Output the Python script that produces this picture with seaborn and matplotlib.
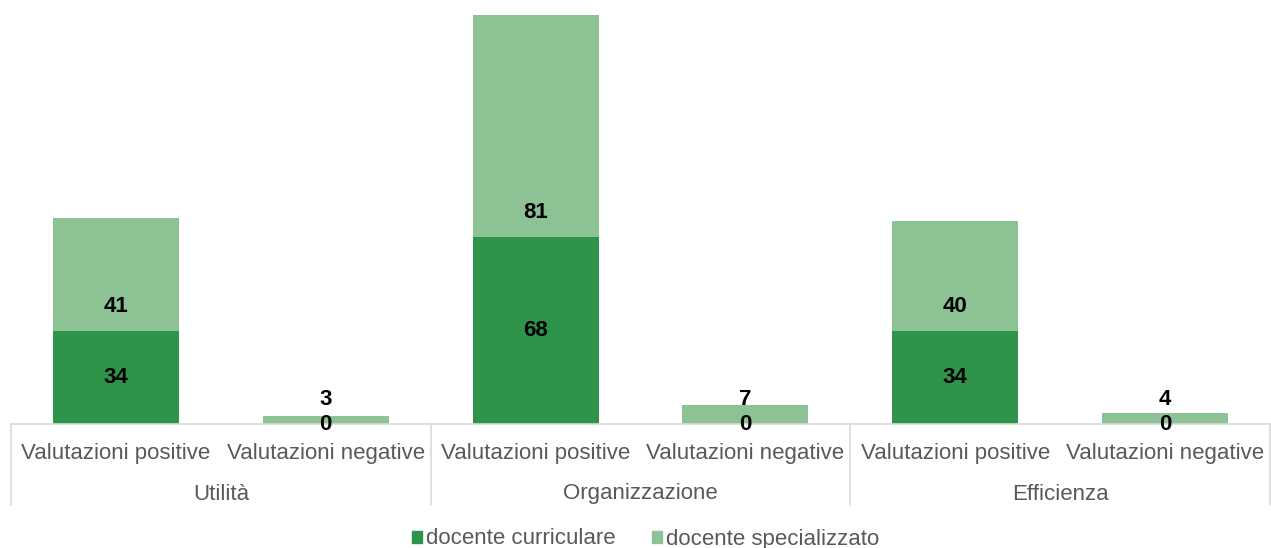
import numpy as np
import pandas as pd
import seaborn as sns
import matplotlib.pyplot as plt
import matplotlib.transforms as mtransforms
from matplotlib.patches import Patch

gruppi = ["Utilità", "Organizzazione", "Efficienza"]
valutazioni = ["Valutazioni positive", "Valutazioni negative"]
curricolare = [34, 0, 68, 0, 34, 0]
specializzato = [41, 3, 81, 7, 40, 4]

dark = "#2E944A"
light = "#8DC394"
grey = "#595959"
line_col = "#D9D9D9"
fs = 16

slots = [f"{g}|{v}" for g in gruppi for v in valutazioni]
df = pd.DataFrame({"slot": slots,
                   "curricolare": curricolare,
                   "specializzato": specializzato})
df["totale"] = df["curricolare"] + df["specializzato"]

sns.set_theme(style="white")
plt.rcParams['font.family'] = ['Liberation Sans', 'DejaVu Sans']

fig = plt.figure(figsize=(12.71, 5.48), dpi=100)
ax = fig.add_axes([11 / 1271, 124 / 548, 1259 / 1271, 424 / 548])

sns.barplot(data=df, x="slot", y="totale", color=light, width=0.6,
            saturation=1, linewidth=0, ax=ax)
sns.barplot(data=df, x="slot", y="curricolare", color=dark, width=0.6,
            saturation=1, linewidth=0, ax=ax)

ax.set_xlim(-0.5, len(slots) - 0.5)
ax.set_ylim(0, 424 / 2.746)
ax.set_xlabel("")
ax.set_ylabel("")
ax.set_yticks([])
for s in ax.spines.values():
    s.set_visible(False)

# data labels
for i, row in df.iterrows():
    c = row["curricolare"]
    ax.text(i, c / 2, str(c), ha="center", va="center",
            fontsize=fs, fontweight="bold", color="black")
    ax.annotate(str(row["specializzato"]), (i, c), xytext=(0, 17.5),
                textcoords="offset points", ha="center", va="center",
                fontsize=fs, fontweight="bold", color="black")

# two level category axis
ax.set_xticks(range(len(slots)))
ax.set_xticklabels(valutazioni * len(gruppi), fontsize=fs, color=grey)
ax.tick_params(axis="x", length=0, pad=14)

trans = mtransforms.blended_transform_factory(ax.transData, ax.transAxes)
px = 1 / 424
ax.plot([-0.5, len(slots) - 0.5], [0, 0], color=line_col, lw=1.2,
        transform=trans, clip_on=False)
for b in range(len(gruppi) + 1):
    xb = -0.5 + 2 * b
    ax.plot([xb, xb], [0, -81 * px], color=line_col, lw=1.2,
            transform=trans, clip_on=False)
for k, g in enumerate(gruppi):
    ax.text(2 * k + 0.5, -70 * px, g, ha="center", va="center",
            fontsize=fs, color=grey, transform=trans)

handles = [Patch(color=dark, label="docente curriculare"),
           Patch(color=light, label="docente specializzato")]
leg = fig.legend(handles=handles, loc="center", ncol=2,
                 bbox_to_anchor=(0.508, 1 - 539 / 548), frameon=False,
                 fontsize=fs, handlelength=0.45, handleheight=0.45,
                 handletextpad=0.2, columnspacing=1.6)
for t in leg.get_texts():
    t.set_color(grey)

fig.savefig("out.png", dpi=100)
